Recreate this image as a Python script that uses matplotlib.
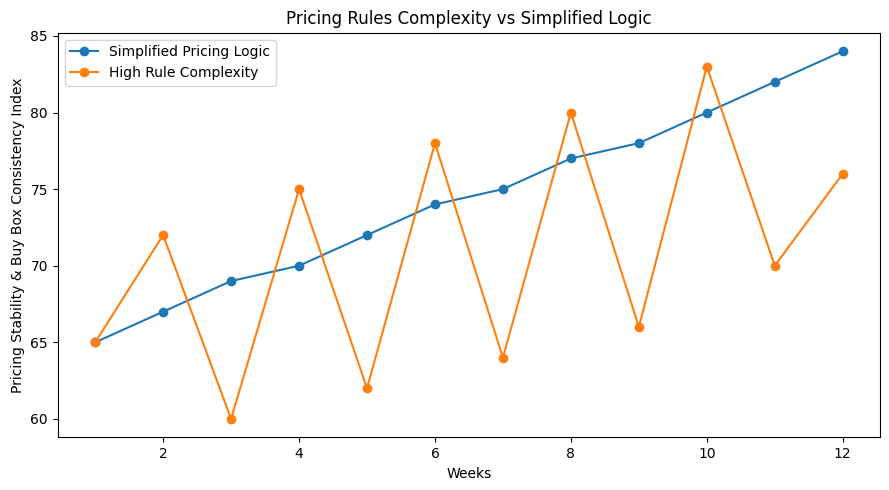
import matplotlib
matplotlib.use('Agg')
import matplotlib.pyplot as plt

weeks = [1, 2, 3, 4, 5, 6, 7, 8, 9, 10, 11, 12]
simplified = [65, 67, 69, 70, 72, 74, 75, 77, 78, 80, 82, 84]
complex_rules = [65, 72, 60, 75, 62, 78, 64, 80, 66, 83, 70, 76]

fig, ax = plt.subplots(figsize=(8.89, 4.9), dpi=100)

ax.plot(weeks, simplified, marker='o', label='Simplified Pricing Logic')
ax.plot(weeks, complex_rules, marker='o', label='High Rule Complexity')

ax.set_title('Pricing Rules Complexity vs Simplified Logic')
ax.set_xlabel('Weeks')
ax.set_ylabel('Pricing Stability & Buy Box Consistency Index')
ax.legend(loc='upper left')

plt.subplots_adjust(left=0.065, right=0.990, top=0.933, bottom=0.1075)
plt.savefig('out.png')
